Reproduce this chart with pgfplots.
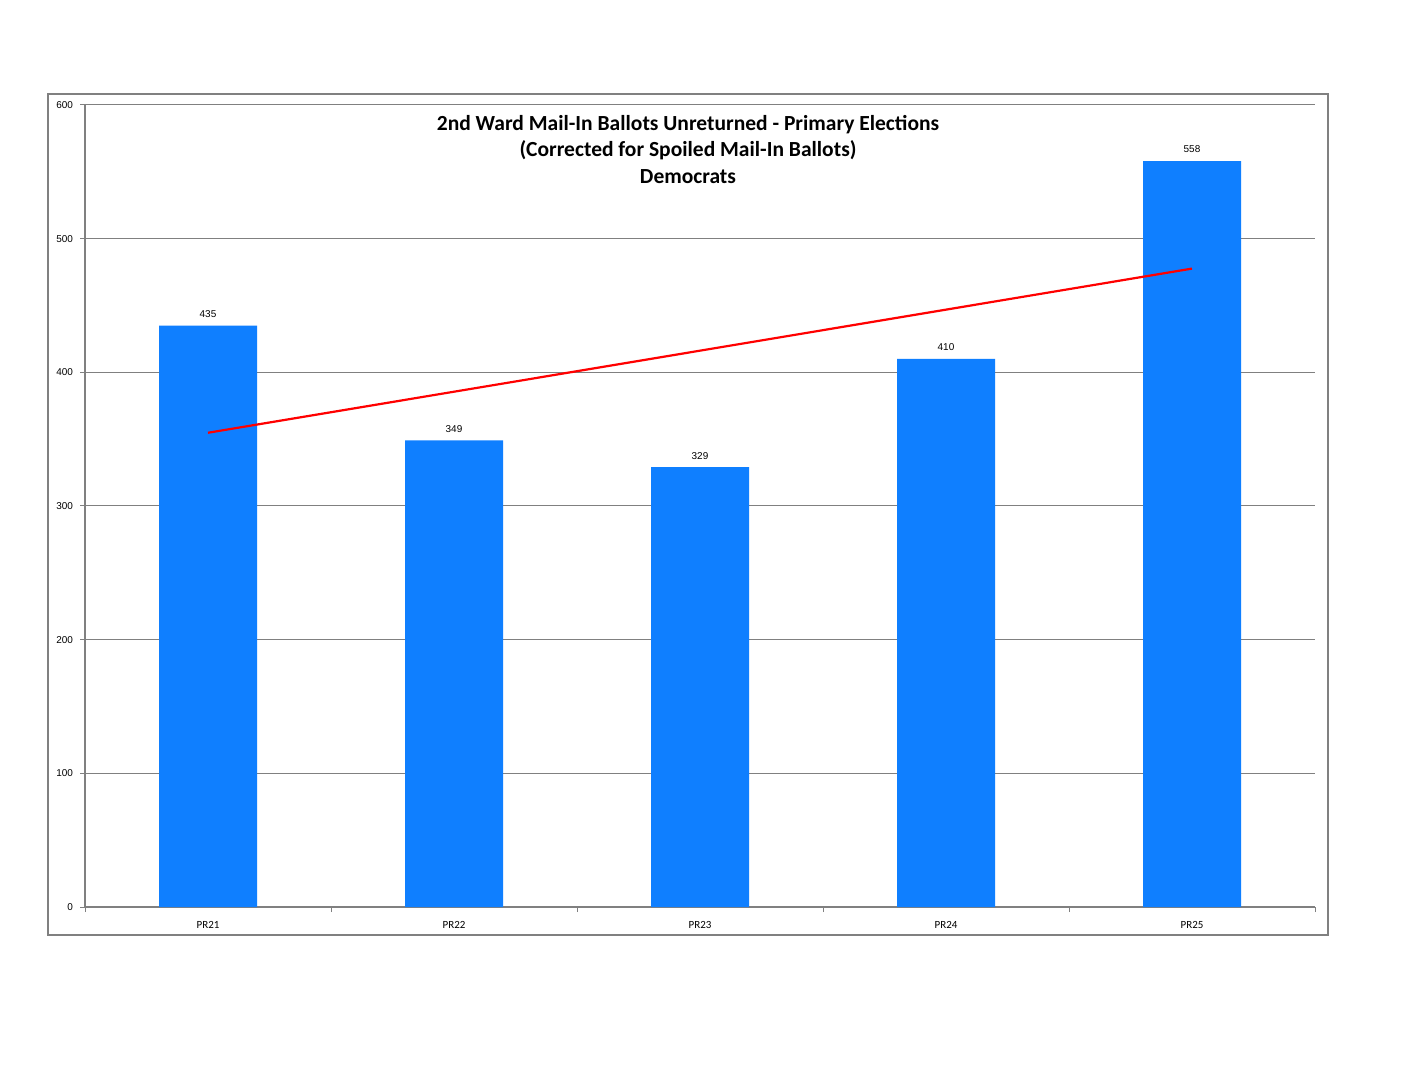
\documentclass[border=0pt]{standalone}
\usepackage{pgfplots}
\pgfplotsset{compat=1.18}
\usepackage{fontspec}
\setmainfont{Carlito}
\newfontfamily\numfont{Liberation Sans}
\definecolor{barblue}{RGB}{15,127,255}
\definecolor{axgray}{RGB}{128,128,128}
\begin{document}
\begin{tikzpicture}
\path[use as bounding box] (0,0) rectangle (704bp,544bp);
\fill[white] (0,0) rectangle (704bp,544bp);
\draw[axgray, line width=0.6bp] (24bp,76.5bp) rectangle (664bp,497bp);
\begin{axis}[
  at={(42.5bp,90.5bp)}, anchor=south west,
  scale only axis, width=615bp, height=401bp,
  xmin=0.5, xmax=5.5, ymin=0, ymax=600,
  axis x line=bottom, axis y line=left,
  axis line style={axgray, line width=0.6bp, -},
  xtick={0.5,1.5,2.5,3.5,4.5,5.5},
  xticklabels={},
  extra x ticks={1,2,3,4,5},
  extra x tick labels={PR21,PR22,PR23,PR24,PR25},
  extra x tick style={major tick length=0pt, grid=none,
    xticklabel style={font=\fontsize{5.5}{6}\selectfont, yshift=-3.5bp}},
  ytick={0,100,...,600},
  ymajorgrids,
  grid style={axgray, line width=0.5bp},
  tick style={axgray, line width=0.5bp},
  major tick length=2.5bp, tick align=outside,
  yticklabel style={font=\numfont\fontsize{5}{6}\selectfont},
  /pgf/number format/assume math mode=true,
  clip=false,
]
\addplot[ybar, bar width=49bp, fill=barblue, draw=none,
  nodes near coords, nodes near coords style={font=\numfont\fontsize{5}{6}\selectfont, black, yshift=0.5bp}]
  coordinates {(1,435) (2,349) (3,329) (4,410) (5,558)};
\addplot[red, line width=1.1bp] coordinates {(1,354.8) (5,477.6)};
\end{axis}
\node[font=\bfseries\fontsize{10.8}{13.3}\selectfont, align=center, anchor=north] at (344bp,490bp)
  {2nd Ward Mail-In Ballots Unreturned - Primary Elections\\(Corrected for Spoiled Mail-In Ballots)\\Democrats};
\end{tikzpicture}
\end{document}
